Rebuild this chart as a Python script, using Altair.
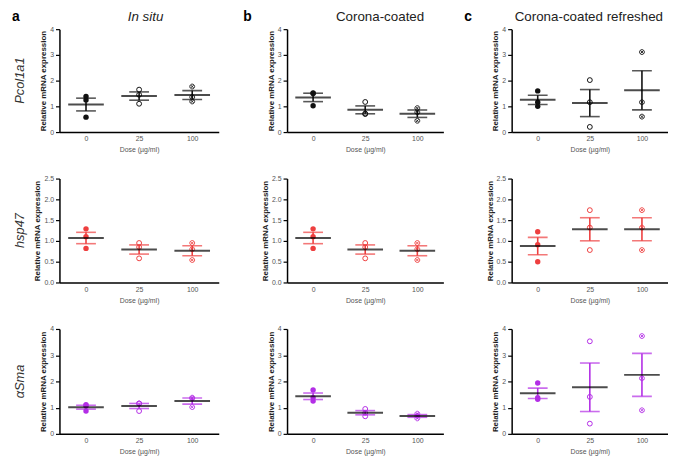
import altair as alt
import pandas as pd

doses = ["0", "25", "100"]
genes = ["Pcol1a1", "hsp47", "αSma"]
conditions = ["In situ", "Corona-coated", "Corona-coated refreshed"]
letters = ["a", "b", "c"]

# replicate values per dose (0, 25, 100 µg/ml)
pcol_insitu = [[1.38, 1.25, 0.58], [1.65, 1.45, 1.10], [1.77, 1.36, 1.19]]
pcol_corona = [[1.50, 1.52, 1.02], [1.17, 0.70, 0.72], [0.93, 0.77, 0.44]]
pcol_refresh = [[1.60, 1.16, 1.00], [2.02, 1.16, 0.20], [3.11, 1.16, 0.60]]
hsp_insitu = [[1.29, 1.10, 0.82], [0.95, 0.85, 0.58], [0.95, 0.80, 0.54]]
hsp_corona = [[1.29, 1.10, 0.82], [0.95, 0.85, 0.58], [0.95, 0.80, 0.54]]
hsp_refresh = [[1.22, 0.91, 0.50], [1.74, 1.32, 0.78], [1.74, 1.32, 0.78]]
sma_insitu = [[1.11, 1.07, 0.87], [1.16, 1.16, 0.87], [1.38, 1.35, 1.02]]
sma_corona = [[1.67, 1.38, 1.25], [0.95, 0.80, 0.67], [0.77, 0.69, 0.59]]
sma_refresh = [[1.94, 1.38, 1.32], [3.53, 1.41, 0.39], [3.73, 2.12, 0.90]]

series = {
    ("Pcol1a1", "In situ"): pcol_insitu,
    ("Pcol1a1", "Corona-coated"): pcol_corona,
    ("Pcol1a1", "Corona-coated refreshed"): pcol_refresh,
    ("hsp47", "In situ"): hsp_insitu,
    ("hsp47", "Corona-coated"): hsp_corona,
    ("hsp47", "Corona-coated refreshed"): hsp_refresh,
    ("αSma", "In situ"): sma_insitu,
    ("αSma", "Corona-coated"): sma_corona,
    ("αSma", "Corona-coated refreshed"): sma_refresh,
}

y_domains = {"Pcol1a1": [0, 4], "hsp47": [0, 2.5], "αSma": [0, 4]}
y_ticks = {"Pcol1a1": [0, 1, 2, 3, 4], "hsp47": [0, 0.5, 1.0, 1.5, 2.0, 2.5], "αSma": [0, 1, 2, 3, 4]}
y_formats = {"Pcol1a1": "d", "hsp47": ".1f", "αSma": "d"}
point_colors = {"Pcol1a1": "#111111", "hsp47": "#ee3f3f", "αSma": "#b32ee6"}
bar_colors = {"Pcol1a1": "#111111", "hsp47": "#ee3f3f", "αSma": "#b32ee6"}

widths = [161, 158, 158]
heights = [104, 105, 106]
letter_x = [-44, -40, -44]
title_x = [87, 94, 78]

FONT = "Liberation Sans"
CROSS_CIRCLE = "M1,0A1,1,0,1,1,-1,0A1,1,0,1,1,1,0M-0.6,-0.6L0.6,0.6M-0.6,0.6L0.6,-0.6"


def panel(r, c):
    gene = genes[r]
    cond = conditions[c]
    vals = series[(gene, cond)]
    rows = []
    for di, d in enumerate(doses):
        for v in vals[di]:
            rows.append({"dose": d, "value": v})
    df = pd.DataFrame(rows)
    base = alt.Chart(df)
    pc = point_colors[gene]
    bc = bar_colors[gene]
    h = heights[r]

    X = alt.X(
        "dose:N",
        sort=doses,
        scale=alt.Scale(type="point", domain=doses, padding=0.5),
        axis=alt.Axis(
            title="Dose (µg/ml)", labelAngle=0, ticks=False, labelPadding=3,
            domainColor="black", domainWidth=1.5, labelColor="#555", labelFontSize=7,
            labelFont=FONT, titleFont=FONT, titleFontSize=7, titleFontWeight="normal",
            titleColor="#555", titlePadding=4, grid=False,
        ),
    )

    def Y(field):
        return alt.Y(
            field,
            scale=alt.Scale(domain=y_domains[gene], nice=False, zero=True),
            axis=alt.Axis(
                title="Relative mRNA expression", values=y_ticks[gene], format=y_formats[gene],
                domainColor="black", domainWidth=1.5, tickColor="black", tickWidth=1.2,
                tickSize=4, labelPadding=2, labelColor="#555", labelFontSize=7, labelFont=FONT,
                titleFont=FONT, titleFontSize=8, titleFontWeight="bold", titleColor="#222",
                titlePadding=2, grid=False,
            ),
        )

    p0 = base.transform_filter(alt.datum.dose == "0").mark_point(
        filled=True, shape="circle", size=30, color=pc, opacity=1
    ).encode(x=X, y=Y("value:Q"))
    p25 = base.transform_filter(alt.datum.dose == "25").mark_point(
        filled=False, shape="circle", size=24, strokeWidth=1, color=pc, opacity=1
    ).encode(x=X, y=Y("value:Q"))
    p100 = base.transform_filter(alt.datum.dose == "100").mark_point(
        filled=False, shape=CROSS_CIRCLE, size=24, strokeWidth=0.9, color=pc, opacity=1
    ).encode(x=X, y=Y("value:Q"))

    agg = base.transform_aggregate(
        mean="mean(value)", sd="stdev(value)", n="count()", groupby=["dose"]
    ).transform_calculate(
        lo="datum.mean - datum.sd / sqrt(datum.n)",
        hi="datum.mean + datum.sd / sqrt(datum.n)",
    )
    rule = agg.mark_rule(color=bc, strokeWidth=1.6).encode(x=X, y=Y("lo:Q"), y2="hi:Q")
    cap_lo = agg.mark_tick(color=bc, size=20, thickness=1.6).encode(x=X, y=Y("lo:Q"))
    cap_hi = agg.mark_tick(color=bc, size=20, thickness=1.6).encode(x=X, y=Y("hi:Q"))
    mean = agg.mark_tick(color="black", size=36, thickness=2).encode(x=X, y=Y("mean:Q"))

    layers = [p0, p25, p100, rule, cap_lo, cap_hi, mean]

    if r == 0:
        lt = alt.Chart(pd.DataFrame({"t": [letters[c]]})).mark_text(
            font=FONT, fontSize=14, fontWeight="bold", color="black", baseline="middle", align="center"
        ).encode(x=alt.value(letter_x[c]), y=alt.value(-12), text="t:N")
        tt = alt.Chart(pd.DataFrame({"t": [cond]})).mark_text(
            font=FONT, fontSize=13.5, fontStyle="italic" if c == 0 else "normal", color="#222",
            baseline="middle", align="center"
        ).encode(x=alt.value(title_x[c]), y=alt.value(-12), text="t:N")
        layers += [lt, tt]
    if c == 0:
        rl = alt.Chart(pd.DataFrame({"t": [gene]})).mark_text(
            font=FONT, fontSize=13, fontStyle="italic", color="#333", angle=270,
            baseline="middle", align="center"
        ).encode(x=alt.value(-40), y=alt.value(h / 2), text="t:N")
        layers += [rl]

    return alt.layer(*layers).properties(width=widths[c], height=h)


panels = [panel(r, c) for r in range(3) for c in range(3)]

chart = alt.concat(
    *panels, columns=3, spacing={"row": 47, "column": 69}, bounds="flush", align="each"
).properties(
    padding={"left": 4, "top": 0, "right": 0, "bottom": 0}
).configure_view(stroke=None)

chart.save("out.html", embed_options={"renderer": "svg", "actions": False})
